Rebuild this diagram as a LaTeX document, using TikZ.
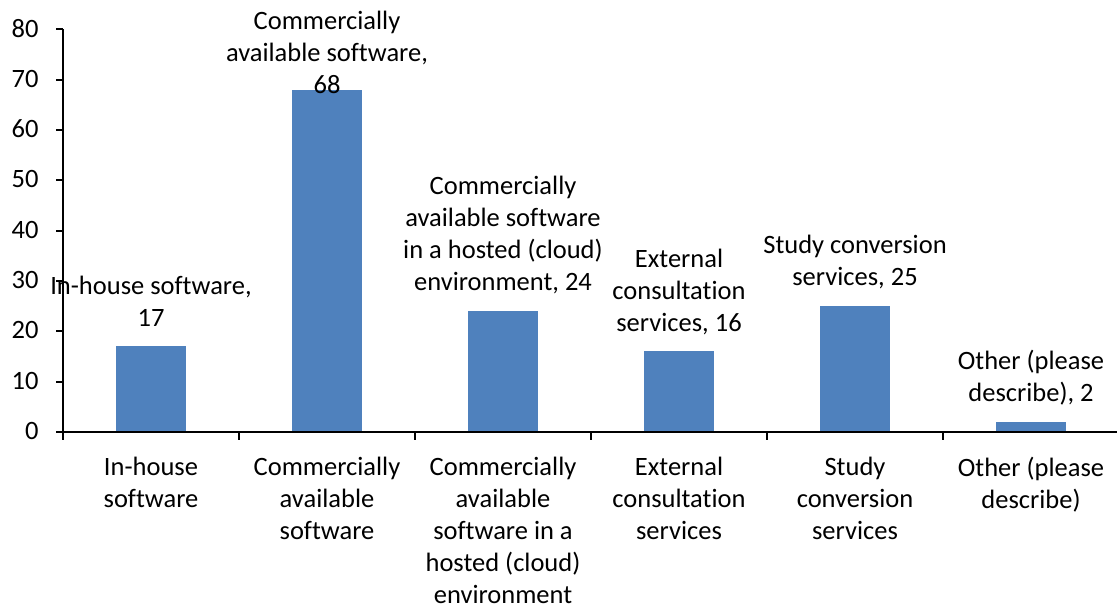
\documentclass[tikz,border=0pt]{standalone}
\usepackage{fontspec}
\setmainfont{Carlito}[Ligatures=NoCommon]
\usetikzlibrary{positioning}
\definecolor{barblue}{RGB}{79,129,189}

\tikzset{
  bar/.style={fill=barblue, inner sep=0pt, outer sep=0pt, minimum width=35pt, anchor=south},
  val/.style={align=center, inner sep=0pt, text depth=0pt},
  cat/.style={align=center, inner sep=0pt, anchor=north, yshift=-12.2pt},
  ylab/.style={anchor=east, inner sep=0pt, xshift=-12pt, yshift=0.5pt},
  axis/.style={line width=0.9pt}
}

\begin{document}
\begin{tikzpicture}[x=88pt, y=2.5165pt, font=\fontsize{13.25}{16}\selectfont]
    \useasboundingbox (-31.5pt,-89pt) rectangle (527pt,216pt);

    % bars
    \node[bar, minimum height={17*2.5165pt}] (b1) at (0.5,0) {};
    \node[bar, minimum height={68*2.5165pt}] (b2) at (1.5,0) {};
    \node[bar, minimum height={24*2.5165pt}] (b3) at (2.5,0) {};
    \node[bar, minimum height={16*2.5165pt}] (b4) at (3.5,0) {};
    \node[bar, minimum height={25*2.5165pt}] (b5) at (4.5,0) {};
    \node[bar, minimum height={2*2.5165pt}] (b6) at (5.5,0) {};

    % axes
    \draw[axis] (0,80) -- (0,0) -- (5.99,0);
    \draw[axis]
        (0,0) -- +(-3.5pt,0)  (0,10) -- +(-3.5pt,0)  (0,20) -- +(-3.5pt,0)
        (0,30) -- +(-3.5pt,0) (0,40) -- +(-3.5pt,0)  (0,50) -- +(-3.5pt,0)
        (0,60) -- +(-3.5pt,0) (0,70) -- +(-3.5pt,0)  (0,80) -- +(-3.5pt,0)
        (0,0) -- +(0,-4pt) (1,0) -- +(0,-4pt) (2,0) -- +(0,-4pt)
        (3,0) -- +(0,-4pt) (4,0) -- +(0,-4pt) (5,0) -- +(0,-4pt);

    \node[ylab] (y0) at (0,0) {0};
    \node[ylab] (y10) at (0,10) {10};
    \node[ylab] (y20) at (0,20) {20};
    \node[ylab] (y30) at (0,30) {30};
    \node[ylab] (y40) at (0,40) {40};
    \node[ylab] (y50) at (0,50) {50};
    \node[ylab] (y60) at (0,60) {60};
    \node[ylab] (y70) at (0,70) {70};
    \node[ylab] (y80) at (0,80) {80};

    % data labels
    \node[val, above=10pt of b1] (v1) {In-house software,\\17};
    \node[val, above=-2pt of b2] (v2) {Commercially\\available software,\\68};
    \node[val, above=10pt of b3] (v3) {Commercially\\available software\\in a hosted (cloud)\\environment, 24};
    \node[val, above=10pt of b4] (v4) {External\\consultation\\services, 16};
    \node[val, above=10pt of b5] (v5) {Study conversion\\services, 25};
    \node[val, above=10pt of b6] (v6) {Other (please\\describe), 2};

    % categories
    \node[cat] (c1) at (0.5,0) {In-house\\software};
    \node[cat] (c2) at (1.5,0) {Commercially\\available\\software};
    \node[cat] (c3) at (2.5,0) {Commercially\\available\\software in a\\hosted (cloud)\\environment};
    \node[cat] (c4) at (3.5,0) {External\\consultation\\services};
    \node[cat] (c5) at (4.5,0) {Study\\conversion\\services};
    \node[cat] (c6) at (5.5,0) {Other (please\\describe)};
\end{tikzpicture}
\end{document}
